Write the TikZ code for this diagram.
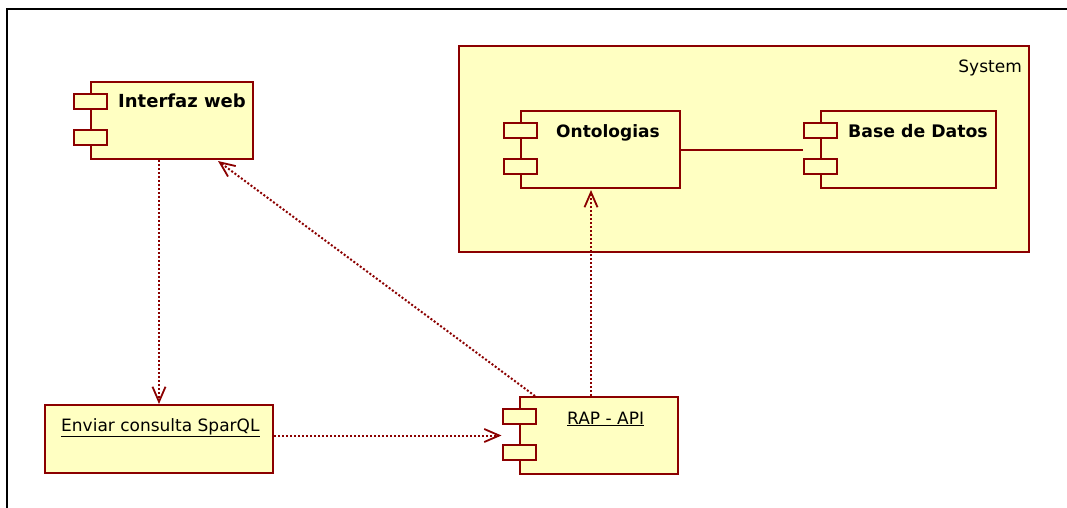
\documentclass[tikz,border=0pt]{standalone}
\usepackage{fontspec}
\setmainfont{DejaVu Sans}
\usetikzlibrary{arrows.meta, positioning, calc}
\definecolor{cdred}{HTML}{8B0000}
\definecolor{cyel}{HTML}{FFFFC2}
\tikzset{
  every picture/.style={font=\fontsize{17}{20}\selectfont},
  comp/.style={draw=cdred, fill=cyel, line width=2pt, anchor=north west, minimum width=#1, minimum height=77pt, inner sep=0pt},
  comp/.default=160pt,
  port/.style={draw=cdred, fill=cyel, line width=2pt, minimum width=33pt, minimum height=15pt, inner sep=0pt},
  sysbox/.style={draw=cdred, fill=cyel, line width=2pt, anchor=north west, minimum width=570pt, minimum height=206pt, inner sep=0pt},
  txt/.style={anchor=base west, inner sep=0pt},
  dep/.style={-{Straight Barb[length=15pt, width=13pt, line width=1.8pt]}, draw=cdred, line width=2pt, dash pattern=on 2pt off 2pt},
  link/.style={draw=cdred, line width=2pt},
}

\begin{document}
\begin{tikzpicture}[x=1pt, y=-1pt]
  \useasboundingbox (0,0) rectangle (1067,508);
  \draw[black, line width=1.5pt] (7,508) -- (7,9);
  \draw[black, line width=2.5pt] (6.25,9) -- (1067,9);

  \node[sysbox] (sys) at (458,45) {};
  \node[anchor=base east, inner sep=0pt] (systxt) at (1022,73) {System};

  \node[comp=162pt] (web) at (90,81) {};
  \node[comp=159pt] (onto) at (520,110) {};
  \node[comp=175pt] (bd) at (820,110) {};
  \node[comp=158pt] (rap) at (519,396) {};
  \node[draw=cdred, fill=cyel, line width=2pt, anchor=north west, minimum width=228pt, minimum height=68pt] (env) at (44,404) {};

  % component ports
  \foreach \n in {web,onto,bd,rap} {
    \node[port] (\n p1) at ($(\n.north west)+(0,20.5)$) {};
    \node[port] (\n p2) at ($(\n.north west)+(0,56.5)$) {};
  }

  \node[txt, font=\fontsize{18}{20}\selectfont\bfseries] (webtxt) at ($(web.north west)+(28,27)$) {Interfaz web};
  \node[txt, font=\fontsize{17}{20}\selectfont\bfseries] (ontotxt) at ($(onto.north west)+(36,27)$) {Ontologias};
  \node[txt, font=\fontsize{17.3}{20}\selectfont\bfseries] (bdtxt) at ($(bd.north west)+(28,27)$) {Base de Datos};
  \node[txt] (raptxt) at ($(rap.north west)+(48,28)$) {\underline{RAP - API}};
  \node[txt] (envtxt) at ($(env.north west)+(17,27)$) {\underline{Enviar consulta SparQL}};

  \draw[link] (onto.east) -- (onto.east -| bdp1.west);
  \draw[dep] (web.south -| env.north) -- (env.north);
  \draw[dep] ($(rap.north west)+(16,0)$) -- ($(web.south east)+(-36,1)$);
  \draw[dep] ($(rap.north)+(-8,0)$) -- ($(onto.south)+(-9.5,1)$);
  \draw[dep] (env.east |- rap.center) -- (rap.center -| rapp1.west);
\end{tikzpicture}
\end{document}
